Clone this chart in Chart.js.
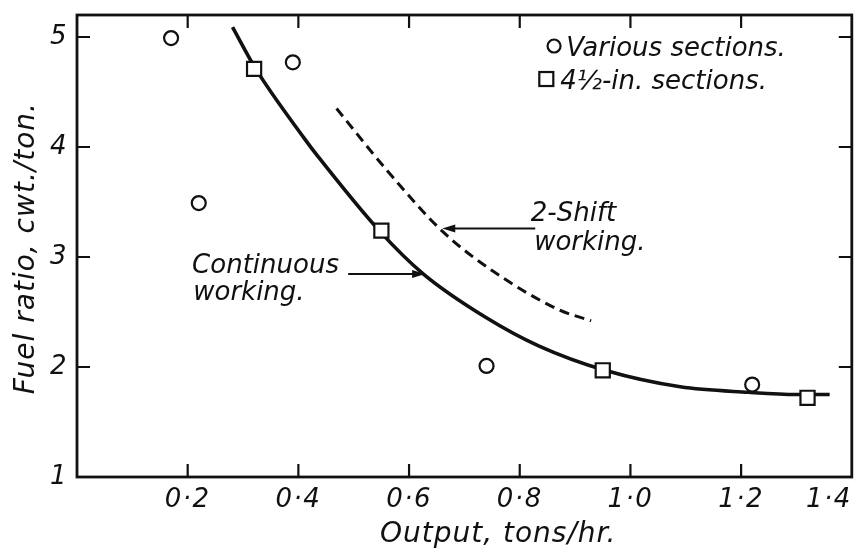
<!DOCTYPE html>
<html>
<head>
<meta charset="utf-8">
<title>Fuel ratio against output</title>
<script src="https://cdn.jsdelivr.net/npm/chart.js@4.4.1/dist/chart.umd.min.js"></script>
<style>
  html, body { margin: 0; padding: 0; background: #fff; }
  #fuelChart { display: block; }
</style>
</head>
<body>
<canvas id="fuelChart" width="864" height="552"></canvas>
<script>
// o  various sections
const variousX = [0.17, 0.22, 0.39, 0.74, 1.22];
const variousY = [4.99, 3.49, 4.77, 2.01, 1.84];

// []  4 1/2-in. sections
const inchX = [0.32, 0.55, 0.95, 1.32];
const inchY = [4.71, 3.24, 1.97, 1.72];

// continuous working (solid curve)
const continuousX = [0.281, 0.323, 0.409, 0.436, 0.546, 0.626, 0.739, 0.835, 0.954, 1.09, 1.213, 1.30, 1.36];
const continuousY = [5.09, 4.71, 4.09, 3.91, 3.24, 2.845, 2.45, 2.19, 1.97, 1.82, 1.77, 1.75, 1.75];

// 2-shift working (dashed curve)
const twoShiftX = [0.469, 0.563, 0.661, 0.752, 0.871, 0.929];
const twoShiftY = [4.35, 3.77, 3.23, 2.87, 2.52, 2.42];

// axis ticks
const xTickValues = [0.2, 0.4, 0.6, 0.8, 1.0, 1.2, 1.4];
const xTickLabels = ['0·2', '0·4', '0·6', '0·8', '1·0', '1·2', '1·4'];
const yTickValues = [1, 2, 3, 4, 5];
const yTickLabels = ['1', '2', '3', '4', '5'];

const INK = '#111';
const FAMILY = '"DejaVu Sans", sans-serif';

const toPoints = (xs, ys) => xs.map((v, i) => ({ x: v, y: ys[i] }));
const labelFor = (values, labels) => value => {
  const i = values.findIndex(t => Math.abs(t - value) < 1e-6);
  return i >= 0 ? labels[i] : '';
};

// frame, inward ticks, arrows and the hand-lettered notes
const paperPlugin = {
  id: 'paper',
  beforeDraw(chart) {
    // the lettering on the original axes is a little spread out
    chart.ctx.letterSpacing = '1.5px';
  },
  beforeDatasetsDraw(chart) {
    chart.ctx.letterSpacing = '0px';
  },
  afterDatasetsDraw(chart) {
    const { ctx, chartArea: a, scales: { x, y } } = chart;
    const px = v => x.getPixelForValue(v);
    const py = v => y.getPixelForValue(v);

    ctx.save();
    ctx.strokeStyle = INK;
    ctx.fillStyle = INK;
    ctx.lineCap = 'butt';

    ctx.lineWidth = 2.8;
    ctx.strokeRect(a.left, a.top, a.width, a.height);

    const tl = 13;
    ctx.beginPath();
    xTickValues.forEach(v => {
      if (v >= x.max) return;
      const X = px(v);
      ctx.moveTo(X, a.bottom); ctx.lineTo(X, a.bottom - tl);
      ctx.moveTo(X, a.top); ctx.lineTo(X, a.top + tl);
    });
    yTickValues.forEach(v => {
      if (v <= y.min) return;
      const Y = py(v);
      ctx.moveTo(a.left, Y); ctx.lineTo(a.left + tl, Y);
      ctx.moveTo(a.right, Y); ctx.lineTo(a.right - tl, Y);
    });
    ctx.lineWidth = 2.2;
    ctx.stroke();

    // arrows pointing at the curves
    const arrow = (x0, y0, x1, y1) => {
      const X0 = px(x0), Y0 = py(y0), X1 = px(x1), Y1 = py(y1);
      const ang = Math.atan2(Y1 - Y0, X1 - X0);
      ctx.beginPath();
      ctx.moveTo(X0, Y0);
      ctx.lineTo(X1 - 8 * Math.cos(ang), Y1 - 8 * Math.sin(ang));
      ctx.lineWidth = 2;
      ctx.stroke();
      ctx.beginPath();
      ctx.moveTo(X1, Y1);
      ctx.lineTo(X1 - 13 * Math.cos(ang) + 4 * Math.sin(ang), Y1 - 13 * Math.sin(ang) - 4 * Math.cos(ang));
      ctx.lineTo(X1 - 13 * Math.cos(ang) - 4 * Math.sin(ang), Y1 - 13 * Math.sin(ang) + 4 * Math.cos(ang));
      ctx.closePath();
      ctx.fill();
    };
    arrow(0.49, 2.845, 0.629, 2.845);
    arrow(0.828, 3.26, 0.66, 3.26);

    ctx.font = 'italic 26px ' + FAMILY;
    ctx.textBaseline = 'alphabetic';
    ctx.textAlign = 'left';
    const notes = [
      { text: 'Continuous', x: 0.208, y: 2.855 },
      { text: 'working.', x: 0.21, y: 2.61 },
      { text: '2-Shift', x: 0.82, y: 3.327 },
      { text: 'working.', x: 0.826, y: 3.064 },
      { text: 'Various sections.', x: 0.884, y: 4.827 },
      { text: '4½-in. sections.', x: 0.873, y: 4.527 }
    ];
    notes.forEach(n => ctx.fillText(n.text, px(n.x), py(n.y)));

    // legend markers
    ctx.lineWidth = 2.2;
    ctx.beginPath();
    ctx.arc(px(0.862), py(4.918), 6.5, 0, Math.PI * 2);
    ctx.stroke();
    ctx.strokeRect(px(0.848) - 7, py(4.618) - 7, 14, 14);

    // axis titles
    ctx.letterSpacing = '1px';
    ctx.textAlign = 'center';
    ctx.font = 'italic 28px ' + FAMILY;
    ctx.fillText('Output, tons/hr.', px(0.761), a.bottom + 65);

    ctx.save();
    ctx.translate(34, py(3.08));
    ctx.rotate(-Math.PI / 2);
    ctx.fillText('Fuel ratio, cwt./ton.', 0, 0);
    ctx.restore();

    ctx.restore();
  }
};

const data = {
  datasets: [
    {
      label: '4½-in. sections',
      data: toPoints(inchX, inchY),
      pointStyle: 'rect',
      pointRadius: 10,
      pointBorderWidth: 2.2,
      pointBorderColor: INK,
      pointBackgroundColor: '#fff',
      showLine: false,
      order: 0
    },
    {
      label: 'Various sections',
      data: toPoints(variousX, variousY),
      pointStyle: 'circle',
      pointRadius: 7,
      pointBorderWidth: 2.2,
      pointBorderColor: INK,
      pointBackgroundColor: '#fff',
      showLine: false,
      order: 1
    },
    {
      label: 'Continuous working',
      data: toPoints(continuousX, continuousY),
      showLine: true,
      pointRadius: 0,
      borderColor: INK,
      borderWidth: 3.6,
      cubicInterpolationMode: 'monotone',
      fill: false,
      order: 2
    },
    {
      label: '2-Shift working',
      data: toPoints(twoShiftX, twoShiftY),
      showLine: true,
      pointRadius: 0,
      borderColor: INK,
      borderWidth: 3,
      borderDash: [10, 6],
      cubicInterpolationMode: 'monotone',
      fill: false,
      order: 3
    }
  ]
};

const tickFont = { family: FAMILY, size: 26, style: 'italic' };

const config = {
  type: 'scatter',
  data: data,
  options: {
    responsive: false,
    animation: false,
    devicePixelRatio: 1,
    layout: { padding: { left: 0, right: 12, top: 15, bottom: 0 } },
    plugins: {
      legend: { display: false },
      tooltip: { enabled: false }
    },
    scales: {
      x: {
        type: 'linear',
        min: 0,
        max: 1.4,
        grid: { display: false, drawTicks: false },
        border: { display: false },
        ticks: {
          color: INK,
          font: tickFont,
          padding: 8,
          maxRotation: 0,
          autoSkip: false,
          align: 'inner',
          callback: labelFor(xTickValues, xTickLabels)
        },
        afterBuildTicks(scale) {
          scale.ticks = [0].concat(xTickValues).map(v => ({ value: v }));
        },
        afterFit(scale) {
          scale.height = 75;
          scale.paddingLeft = 0;
          scale.paddingRight = 0;
        }
      },
      y: {
        type: 'linear',
        min: 1,
        max: 5.2,
        grid: { display: false, drawTicks: false },
        border: { display: false },
        ticks: {
          color: INK,
          font: tickFont,
          padding: 9,
          callback: labelFor(yTickValues, yTickLabels)
        },
        afterBuildTicks(scale) {
          scale.ticks = yTickValues.map(v => ({ value: v }));
        },
        afterFit(scale) {
          scale.width = 77;
          scale.paddingTop = 0;
          scale.paddingBottom = 0;
        }
      }
    }
  },
  plugins: [paperPlugin]
};

new Chart(document.getElementById('fuelChart'), config);
</script>
</body>
</html>
